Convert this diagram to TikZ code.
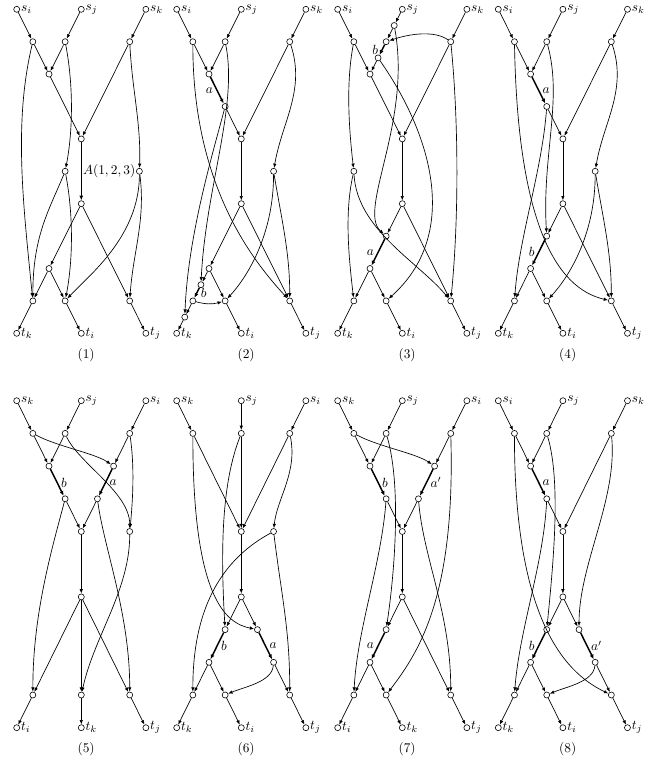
\documentclass[tikz,border=0pt]{standalone}
\usetikzlibrary{arrows.meta}
\tikzset{
  vtx/.style={circle,draw,fill=white,inner sep=0pt,minimum size=4.5pt,line width=0.45pt},
  termv/.style={vtx,label={[inner sep=0.6pt]east:#1}},
  arr/.style={-{Latex[length=3.3pt,width=2.6pt]},line width=0.5pt},
  hvy/.style={-{Latex[length=3.6pt,width=3pt]},line width=1.1pt},
  elab/.style={inner sep=2.5pt},
  capt/.style={inner sep=0pt},
  toprow/.style={x=12.11pt,y=-24.3pt},
  botrow/.style={x=12.11pt,y=-24.525pt},
}
\begin{document}
\begin{tikzpicture}
\useasboundingbox (0,0) rectangle (492.75pt,-573pt);

% ---------- (1) ----------
\begin{scope}[shift={(12.525pt,-6.975pt)},toprow]
\node[termv={$s_i$}] (p1si) at (0,0) {};
\node[termv={$s_j$}] (p1sj) at (4,0) {};
\node[termv={$s_k$}] (p1sk) at (8,0) {};
\node[termv={$t_k$}] (p1tk) at (0,10) {};
\node[termv={$t_i$}] (p1ti) at (4,10) {};
\node[termv={$t_j$}] (p1tj) at (8,10) {};
\foreach \n/\x/\y in {u1/1/1,u2/3/1,u3/7/1,m/2/2,a1/4/4,l/3/5,r/7.6/5,a2/4/6,w/2/8,b1/1/9,b2/3/9,b3/7/9}
  \node[vtx] (p1\n) at (\x,\y) {};
\foreach \a/\b in {si/u1,sj/u2,sk/u3,u1/m,u2/m,m/a1,u3/a1,a2/w,a2/b3,w/b1,w/b2,b1/tk,b2/ti,b3/tj}
  \draw[arr] (p1\a) -- (p1\b);
\draw[hvy] (p1a1) -- node[anchor=west,inner sep=0.8pt] (p1lab) {$A(1,2,3)$} (p1a2);
\draw[arr] (p1u1) .. controls +(-1.2,2.5) and +(-0.6,-3) .. (p1b1);
\draw[arr] (p1u2) .. controls +(0.5,1.3) and +(0.5,-1.3) .. (p1l);
\draw[arr] (p1u3) .. controls +(0.15,1.5) and +(0.1,-1.5) .. (p1r);
\draw[arr] (p1l) .. controls +(-1,1.2) and +(0,-2) .. (p1b1);
\draw[arr] (p1l) .. controls +(0.5,1.3) and +(0.5,-1.3) .. (p1b2);
\draw[arr] (p1r) .. controls +(0,2) and +(1.5,-0.8) .. (p1b2);
\draw[arr] (p1r) .. controls +(0.4,1.5) and +(0.2,-1.5) .. (p1b3);
\node[capt] (p1cap) at (4.3,10.67) {(1)};
\end{scope}

% ---------- (2) ----------
\begin{scope}[shift={(132.525pt,-6.975pt)},toprow]
\node[termv={$s_i$}] (p2si) at (0,0) {};
\node[termv={$s_j$}] (p2sj) at (4,0) {};
\node[termv={$s_k$}] (p2sk) at (8,0) {};
\node[termv={$t_k$}] (p2tk) at (0,10) {};
\node[termv={$t_i$}] (p2ti) at (4,10) {};
\node[termv={$t_j$}] (p2tj) at (8,10) {};
\foreach \n/\x/\y in {u1/1/1,u2/3/1,u3/7/1,m/2/2,n/3/3,a1/4/4,r/6/5,a2/4/6,w/2/8,v/1.5/8.5,b1/1/9,x/0.5/9.5,b2/3/9,b3/7/9}
  \node[vtx] (p2\n) at (\x,\y) {};
\foreach \a/\b in {si/u1,sj/u2,sk/u3,u1/m,u2/m,n/a1,u3/a1,a1/a2,a2/w,a2/b3,w/b2,w/v,b1/x,x/tk,b2/ti,b3/tj}
  \draw[arr] (p2\a) -- (p2\b);
\draw[hvy] (p2m) -- node[elab,left] (p2la) {$a$} (p2n);
\draw[hvy] (p2v) -- node[elab,right] (p2lb) {$b$} (p2b1);
\draw[arr] (p2b1) to[bend right=15] (p2b2);
\draw[arr] (p2u3) .. controls +(1,1.5) and +(0.5,-1.5) .. (p2r);
\draw[arr] (p2r) .. controls +(0,2) and +(1.3,-0.7) .. (p2b2);
\draw[arr] (p2r) .. controls +(0.5,1.5) and +(0,-1.5) .. (p2b3);
\draw[arr] (p2u1) .. controls +(0,4.5) and +(-2.2,-1.2) .. (p2b3);
\draw[arr] (p2u2) .. controls +(0.8,2) and +(0.3,-3) .. (p2v);
\draw[arr] (p2n) .. controls +(-0.8,1.5) and +(0.2,-2.5) .. (p2x);
\node[capt] (p2cap) at (4.3,10.67) {(2)};
\end{scope}

% ---------- (3) ----------
\begin{scope}[shift={(253.275pt,-6.975pt)},toprow]
\node[termv={$s_i$}] (p3si) at (0,0) {};
\node[termv={$s_j$}] (p3sj) at (4,0) {};
\node[termv={$s_k$}] (p3sk) at (8,0) {};
\node[termv={$t_k$}] (p3tk) at (0,10) {};
\node[termv={$t_i$}] (p3ti) at (4,10) {};
\node[termv={$t_j$}] (p3tj) at (8,10) {};
\foreach \n/\x/\y in {h/3.5/0.5,u1/1/1,u2/3/1,u3/7/1,g/2.5/1.5,m/2/2,a1/4/4,l/1/5,a2/4/6,n/3/7,w/2/8,b1/1/9,b2/3/9,b3/7/9}
  \node[vtx] (p3\n) at (\x,\y) {};
\foreach \a/\b in {si/u1,sj/h,h/u2,sk/u3,u1/m,g/m,m/a1,u3/a1,a1/a2,a2/n,a2/b3,w/b1,w/b2,b1/tk,b2/ti,b3/tj}
  \draw[arr] (p3\a) -- (p3\b);
\draw[hvy] (p3u2) -- node[elab,left] (p3lb) {$b$} (p3g);
\draw[hvy] (p3n) -- node[elab,left] (p3la) {$a$} (p3w);
\draw[arr] (p3u3) .. controls +(-1,-0.35) and +(1.5,-0.25) .. (p3u2);
\draw[arr] (p3u1) .. controls +(-0.5,1.3) and +(-0.3,-1.3) .. (p3l);
\draw[arr] (p3l) .. controls +(-0.6,1.3) and +(-0.3,-1.3) .. (p3b1);
\draw[arr] (p3l) .. controls +(0.2,1.8) and +(-2,-1.2) .. (p3b3);
\draw[arr] (p3h) .. controls +(1.1,3) and +(-1.8,-0.8) .. (p3n);
\draw[arr] (p3g) .. controls +(3.5,2.5) and +(4.5,-2) .. (p3b2);
\draw[arr] (p3u3) .. controls +(0.5,2.5) and +(0.5,-2.5) .. (p3b3);
\node[capt] (p3cap) at (4.3,10.67) {(3)};
\end{scope}

% ---------- (4) ----------
\begin{scope}[shift={(373.725pt,-6.975pt)},toprow]
\node[termv={$s_i$}] (p4si) at (0,0) {};
\node[termv={$s_j$}] (p4sj) at (4,0) {};
\node[termv={$s_k$}] (p4sk) at (8,0) {};
\node[termv={$t_k$}] (p4tk) at (0,10) {};
\node[termv={$t_i$}] (p4ti) at (4,10) {};
\node[termv={$t_j$}] (p4tj) at (8,10) {};
\foreach \n/\x/\y in {u1/1/1,u2/3/1,u3/7/1,m/2/2,n/3/3,a1/4/4,r/6/5,a2/4/6,p/3/7,w/2/8,b1/1/9,b2/3/9,b3/7/9}
  \node[vtx] (p4\n) at (\x,\y) {};
\foreach \a/\b in {si/u1,sj/u2,sk/u3,u1/m,u2/m,n/a1,u3/a1,a1/a2,a2/p,a2/b3,w/b1,w/b2,b1/tk,b2/ti,b3/tj}
  \draw[arr] (p4\a) -- (p4\b);
\draw[hvy] (p4m) -- node[elab,right] (p4la) {$a$} (p4n);
\draw[hvy] (p4p) -- node[elab,left] (p4lb) {$b$} (p4w);
\draw[arr] (p4u3) .. controls +(1,1.5) and +(0.5,-1.5) .. (p4r);
\draw[arr] (p4r) .. controls +(0,2) and +(1.3,-0.7) .. (p4b2);
\draw[arr] (p4r) .. controls +(0.5,1.5) and +(0,-1.5) .. (p4b3);
\draw[arr] (p4u1) .. controls +(0.2,5.5) and +(-3.5,-0.4) .. (p4b3);
\draw[arr] (p4u2) .. controls +(1,1.8) and +(-0.3,-2.5) .. (p4p);
\draw[arr] (p4n) .. controls +(-0.3,2) and +(0.3,-2) .. (p4b1);
\node[capt] (p4cap) at (4.3,10.67) {(4)};
\end{scope}

% ---------- (5) ----------
\begin{scope}[shift={(12.525pt,-300.525pt)},botrow]
\node[termv={$s_k$}] (p5sk) at (0,0) {};
\node[termv={$s_j$}] (p5sj) at (4,0) {};
\node[termv={$s_i$}] (p5si) at (8,0) {};
\node[termv={$t_i$}] (p5ti) at (0,10) {};
\node[termv={$t_k$}] (p5tk) at (4,10) {};
\node[termv={$t_j$}] (p5tj) at (8,10) {};
\foreach \n/\x/\y in {u1/1/1,u2/3/1,u3/7/1,m/2/2,m2/6/2,n/3/3,n2/5/3,a1/4/4,q/7/4,a2/4/6,b1/1/9,b2/4/9,b3/7/9}
  \node[vtx] (p5\n) at (\x,\y) {};
\foreach \a/\b in {sk/u1,sj/u2,si/u3,u1/m,u2/m,u3/m2,n/a1,n2/a1,a1/a2,a2/b1,a2/b2,a2/b3,b1/ti,b2/tk,b3/tj}
  \draw[arr] (p5\a) -- (p5\b);
\draw[hvy] (p5m) -- node[elab,right] (p5lb) {$b$} (p5n);
\draw[hvy] (p5m2) -- node[elab,right] (p5la) {$a$} (p5n2);
\draw[arr] (p5u1) .. controls +(1.5,0.4) and +(-1.2,-0.4) .. (p5m2);
\draw[arr] (p5u2) .. controls +(0.8,0.9) and +(0,-1.2) .. (p5q);
\draw[arr] (p5u3) .. controls +(0.3,1) and +(0.2,-1) .. (p5q);
\draw[arr] (p5n) .. controls +(-0.8,1.5) and +(0,-2.5) .. (p5b1);
\draw[arr] (p5n2) .. controls +(0.4,1.5) and +(0,-2.5) .. (p5b3);
\draw[arr] (p5q) .. controls +(0,1.8) and +(0.8,-1.8) .. (p5b2);
\node[capt] (p5cap) at (4.3,10.65) {(5)};
\end{scope}

% ---------- (6) ----------
\begin{scope}[shift={(132.525pt,-300.525pt)},botrow]
\node[termv={$s_k$}] (p6sk) at (0,0) {};
\node[termv={$s_j$}] (p6sj) at (4,0) {};
\node[termv={$s_i$}] (p6si) at (8,0) {};
\node[termv={$t_k$}] (p6tk) at (0,10) {};
\node[termv={$t_i$}] (p6ti) at (4,10) {};
\node[termv={$t_j$}] (p6tj) at (8,10) {};
\foreach \n/\x/\y in {u1/1/1,u2/4/1,u3/7/1,a1/4/4,q/6/4,a2/4/6,p/3/7,p2/5/7,w/2/8,w2/6/8,b1/1/9,b2/3/9,b3/7/9}
  \node[vtx] (p6\n) at (\x,\y) {};
\foreach \a/\b in {sk/u1,sj/u2,si/u3,u1/a1,u2/a1,u3/a1,a1/a2,a2/p,a2/p2,w/b1,w/b2,w2/b3,b1/tk,b2/ti,b3/tj}
  \draw[arr] (p6\a) -- (p6\b);
\draw[hvy] (p6p) -- node[elab,right] (p6lb) {$b$} (p6w);
\draw[hvy] (p6p2) -- node[elab,right] (p6la) {$a$} (p6w2);
\draw[arr] (p6u3) .. controls +(0.5,1.2) and +(0.2,-1) .. (p6q);
\draw[arr] (p6u1) .. controls +(0,5) and +(-2,-0.2) .. (p6p2);
\draw[arr] (p6u2) .. controls +(-1.2,1.5) and +(-0.3,-2.5) .. (p6p);
\draw[arr] (p6q) .. controls +(-3,0.8) and +(0,-2.8) .. (p6b1);
\draw[arr] (p6q) .. controls +(0.5,2) and +(0,-2) .. (p6b3);
\draw[arr] (p6w2) .. controls +(-0.1,0.6) and +(1.2,-0.25) .. (p6b2);
\node[capt] (p6cap) at (4.3,10.65) {(6)};
\end{scope}

% ---------- (7) ----------
\begin{scope}[shift={(253.275pt,-300.525pt)},botrow]
\node[termv={$s_k$}] (p7sk) at (0,0) {};
\node[termv={$s_j$}] (p7sj) at (4,0) {};
\node[termv={$s_i$}] (p7si) at (8,0) {};
\node[termv={$t_i$}] (p7ti) at (0,10) {};
\node[termv={$t_k$}] (p7tk) at (4,10) {};
\node[termv={$t_j$}] (p7tj) at (8,10) {};
\foreach \n/\x/\y in {u1/1/1,u2/3/1,u3/7/1,m/2/2,m2/6/2,n/3/3,n2/5/3,a1/4/4,a2/4/6,p/3/7,w/2/8,b1/1/9,b2/3/9,b3/7/9}
  \node[vtx] (p7\n) at (\x,\y) {};
\foreach \a/\b in {sk/u1,sj/u2,si/u3,u1/m,u2/m,u3/m2,n/a1,n2/a1,a1/a2,a2/p,a2/b3,w/b1,w/b2,b1/ti,b2/tk,b3/tj}
  \draw[arr] (p7\a) -- (p7\b);
\draw[hvy] (p7m) -- node[elab,right] (p7lb) {$b$} (p7n);
\draw[hvy] (p7m2) -- node[elab,right] (p7la) {$a'$} (p7n2);
\draw[hvy] (p7p) -- node[elab,left] (p7lc) {$a$} (p7w);
\draw[arr] (p7u1) .. controls +(1.5,0.4) and +(-1.2,-0.4) .. (p7m2);
\draw[arr] (p7u2) .. controls +(0.9,1.5) and +(0.6,-2) .. (p7p);
\draw[arr] (p7u3) .. controls +(0.3,5) and +(2,-1.3) .. (p7b2);
\draw[arr] (p7n) .. controls +(-0.3,2) and +(0.2,-2) .. (p7b1);
\draw[arr] (p7n2) .. controls +(0.3,1.8) and +(0,-2.5) .. (p7b3);
\node[capt] (p7cap) at (4.3,10.65) {(7)};
\end{scope}

% ---------- (8) ----------
\begin{scope}[shift={(373.725pt,-300.525pt)},botrow]
\node[termv={$s_i$}] (p8si) at (0,0) {};
\node[termv={$s_j$}] (p8sj) at (4,0) {};
\node[termv={$s_k$}] (p8sk) at (8,0) {};
\node[termv={$t_k$}] (p8tk) at (0,10) {};
\node[termv={$t_i$}] (p8ti) at (4,10) {};
\node[termv={$t_j$}] (p8tj) at (8,10) {};
\foreach \n/\x/\y in {u1/1/1,u2/3/1,u3/7/1,m/2/2,n/3/3,a1/4/4,a2/4/6,p/3/7,p2/5/7,w/2/8,w2/6/8,b1/1/9,b2/3/9,b3/7/9}
  \node[vtx] (p8\n) at (\x,\y) {};
\foreach \a/\b in {si/u1,sj/u2,sk/u3,u1/m,u2/m,n/a1,u3/a1,a1/a2,a2/p,a2/p2,w/b1,w/b2,w2/b3,b1/tk,b2/ti,b3/tj}
  \draw[arr] (p8\a) -- (p8\b);
\draw[hvy] (p8m) -- node[elab,right] (p8la) {$a$} (p8n);
\draw[hvy] (p8p) -- node[elab,left] (p8lb) {$b$} (p8w);
\draw[hvy] (p8p2) -- node[elab,right] (p8lc) {$a'$} (p8w2);
\draw[arr] (p8w2) .. controls +(-0.1,0.6) and +(1.2,-0.25) .. (p8b2);
\draw[arr] (p8u1) .. controls +(0,6) and +(-2.5,-0.6) .. (p8b3);
\draw[arr] (p8u2) .. controls +(0.9,1.5) and +(0.4,-2) .. (p8p);
\draw[arr] (p8n) .. controls +(-0.2,2) and +(0.3,-2) .. (p8b1);
\draw[arr] (p8u3) .. controls +(0.4,2) and +(0,-2) .. (p8p2);
\node[capt] (p8cap) at (4.3,10.65) {(8)};
\end{scope}
\end{tikzpicture}
\end{document}
